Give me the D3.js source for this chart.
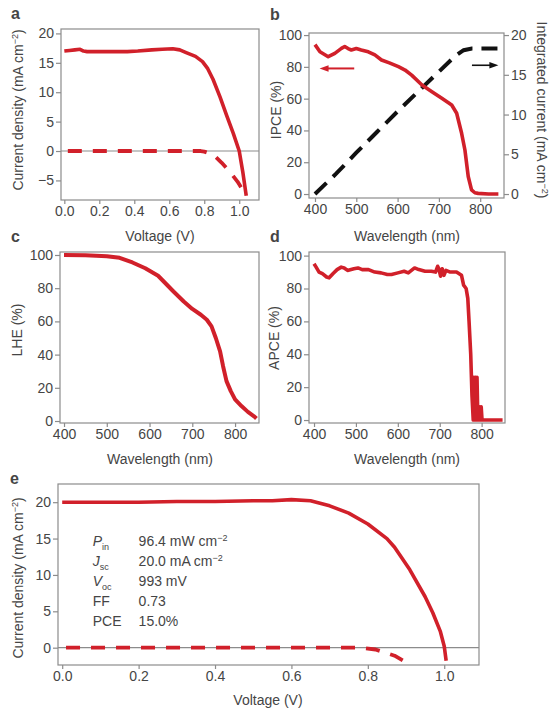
<!DOCTYPE html>
<html>
<head>
<meta charset="utf-8">
<script src="https://cdn.jsdelivr.net/npm/d3@7"></script>
<style>
body { margin: 0; background: #fff; }
text { font-family: "Liberation Sans", Arial, sans-serif; fill: #454545; }
</style>
</head>
<body>
<svg width="555" height="712"></svg>
<script>
// a: J-V curve (light and dark)
const aVolt  = [0, 0.03, 0.06, 0.09, 0.11, 0.13, 0.2, 0.3, 0.36, 0.42, 0.5, 0.56, 0.62, 0.66, 0.7, 0.75, 0.79, 0.82, 0.85, 0.89, 0.93, 0.966, 1.0, 1.02, 1.04];
const aJ     = [17.0, 17.1, 17.2, 17.3, 17.0, 16.9, 16.9, 16.9, 16.9, 17.0, 17.2, 17.3, 17.4, 17.2, 16.7, 16.1, 15.2, 14.0, 12.2, 9.2, 5.9, 3.0, 0, -3.5, -7.6];
const aDarkV = [0.02, 0.78, 0.8, 0.85, 0.9, 0.94, 0.99, 1.04];
const aDarkJ = [0, 0, -0.1, -0.6, -2.0, -3.3, -5.2, -7.6];

// b: IPCE and integrated current
const bWave = [400, 412, 432, 448, 464, 472, 480, 488, 500, 512, 529, 545, 561, 580, 602, 618, 634, 659, 683, 707, 731, 743, 755, 763, 771, 779, 787, 795, 820, 844];
const bIpce = [94, 89.5, 86.4, 88.5, 91.6, 92.8, 91.5, 90.6, 91.5, 90.6, 89.5, 87.5, 84.3, 82.5, 80.1, 78, 74.8, 68.6, 64.4, 60.2, 56, 50.8, 38.2, 27.7, 11, 2.6, 0.8, 0.4, 0, 0];
const bIntWave = [400, 450, 500, 550, 600, 650, 700, 740, 760, 780, 850];
const bIntJ    = [0, 2.5, 5.2, 7.8, 10.4, 12.9, 15.4, 17.4, 18.1, 18.3, 18.3];

// c: light harvesting efficiency
const cWave = [400, 450, 500, 530, 560, 590, 620, 656, 680, 700, 720, 734, 745, 755, 765, 772, 780, 790, 800, 815, 830, 846, 850];
const cLhe  = [100, 99.8, 99.3, 98.3, 95.5, 92, 87.5, 78, 72, 67.5, 64, 61, 57, 50, 42, 33, 24, 18, 13, 9, 5.5, 2.5, 1.5];

// d: APCE
const dWave = [400, 405, 412, 420, 430, 436, 445, 455, 465, 472, 480, 495, 505, 515, 530, 545, 560, 575, 585, 600, 615, 625, 640, 650, 665, 680, 690, 695, 698, 702, 706, 710, 715, 725, 740, 752, 757, 763, 767, 770, 774, 777, 780, 781, 782, 784, 785, 786, 788, 789, 791, 792, 794, 796, 797, 799, 801, 803, 850];
const dApce = [95, 93, 90, 89, 87, 86.5, 89, 91.5, 93, 92.5, 91, 92, 92.5, 91.5, 91.5, 90, 89.5, 88.5, 88.5, 89.5, 90.5, 89.5, 92.5, 91.5, 90.5, 90.5, 90, 93.5, 92, 87.5, 92, 88, 91, 90, 90, 88, 82, 80, 74, 60, 40, 15, 0, 26, 0, 26, 0, 26, 0, 26, 0, 8, 0, 8, 0, 8, 0, 0, 0];

// e: best cell J-V
const eVolt  = [0, 0.1, 0.2, 0.3, 0.4, 0.5, 0.55, 0.6, 0.65, 0.7, 0.75, 0.8, 0.85, 0.87, 0.91, 0.95, 0.97, 0.99, 1.0, 1.005];
const eJ     = [20, 20, 20, 20.1, 20.1, 20.2, 20.2, 20.35, 20.2, 19.5, 18.5, 17.0, 15.0, 13.8, 10.7, 7.0, 4.8, 2.2, 0.2, -1.8];
const eDarkV = [0.01, 0.78, 0.82, 0.84, 0.87, 0.9];
const eDarkJ = [0, 0, -0.25, -0.6, -1.1, -2.0];

const eLabels = [["P", "in"], ["J", "sc"], ["V", "oc"], ["FF", ""], ["PCE", ""]];
const eValues = ["96.4 mW cm", "20.0 mA cm", "993 mV", "0.73", "15.0%"];
const eValSup = ["\u22122", "\u22122", "", "", ""];

const red = "#d1202a";
const svg = d3.select("svg");
const fs = 14;

function minus(d, f) { return f(d).replace("-", "\u2212"); }

function panel(o) {
  const x = d3.scaleLinear().domain(o.xd).range([o.left, o.right]);
  const y = d3.scaleLinear().domain(o.yd).range([o.bottom, o.top]);
  const g = svg.append("g");
  g.append("rect")
    .attr("x", o.left).attr("y", o.top)
    .attr("width", o.right - o.left).attr("height", o.bottom - o.top)
    .attr("fill", "none").attr("stroke", "#8c8c8c").attr("stroke-width", 1.2);
  const xf = o.xf || d3.format("d"), yf = o.yf || d3.format("d");
  const ax = g.append("g").attr("transform", "translate(0," + o.bottom + ")")
    .call(d3.axisBottom(x).tickValues(o.xt).tickFormat(d => minus(d, xf)).tickSize(4).tickSizeOuter(0).tickPadding(2));
  const ay = g.append("g").attr("transform", "translate(" + o.left + ",0)")
    .call(d3.axisLeft(y).tickValues(o.yt).tickFormat(d => minus(d, yf)).tickSize(5).tickSizeOuter(0).tickPadding(2));
  [ax, ay].forEach(a => {
    a.select(".domain").remove();
    a.selectAll(".tick line").attr("stroke", "#8c8c8c").attr("stroke-width", 1.2);
    a.selectAll("text").attr("font-size", fs).attr("fill", "#454545");
  });
  return { x, y, g };
}

function ylabel(g, cx, cy, main, sup, tail, rot) {
  const t = g.append("text").attr("transform", "translate(" + cx + "," + cy + ") rotate(" + (rot || -90) + ")")
    .attr("text-anchor", "middle").attr("dy", "0.35em").attr("font-size", fs);
  t.append("tspan").text(main);
  if (sup) {
    t.append("tspan").attr("font-size", 9).attr("dy", -5).text(sup);
    t.append("tspan").attr("dy", 5).text(tail);
  }
}

function xlabel(g, cx, cy, s) {
  g.append("text").attr("x", cx).attr("y", cy).attr("text-anchor", "middle").attr("dy", "0.35em")
    .attr("font-size", fs).text(s);
}

function letter(s, x, y) {
  svg.append("text").attr("x", x).attr("y", y).attr("font-size", 16).attr("font-weight", "bold")
    .attr("fill", "#222").text(s);
}

function curve(p, xs, ys, color, dash, w) {
  const line = d3.line().x((d, i) => p.x(xs[i])).y((d, i) => p.y(ys[i]));
  p.g.append("path").datum(xs).attr("d", line).attr("fill", "none")
    .attr("stroke", color).attr("stroke-width", w || 3.6)
    .attr("stroke-linejoin", "round")
    .attr("stroke-dasharray", dash || null);
}

function zeroLine(p) {
  p.g.append("line").attr("x1", p.x.range()[0]).attr("x2", p.x.range()[1])
    .attr("y1", p.y(0)).attr("y2", p.y(0)).attr("stroke", "#8c8c8c").attr("stroke-width", 1.2);
}

function arrow(p, x1, x2, yv, yScale, color, w) {
  const y = yScale(yv);
  const xa = p.x(x1), xb = p.x(x2);
  const dir = Math.sign(xb - xa);
  p.g.append("line").attr("x1", xa).attr("x2", xb - dir * 6).attr("y1", y).attr("y2", y)
    .attr("stroke", color).attr("stroke-width", w);
  p.g.append("path").attr("d", "M" + xb + "," + y + "L" + (xb - dir * 9) + "," + (y - 3.2) + "L" + (xb - dir * 9) + "," + (y + 3.2) + "Z")
    .attr("fill", color);
}

// ---- a
const pa = panel({ left: 61, right: 259, top: 29, bottom: 200, xd: [-0.019, 1.113], yd: [-8.33, 20.75],
  xt: [0, 0.2, 0.4, 0.6, 0.8, 1.0], yt: [-5, 0, 5, 10, 15, 20], xf: d3.format(".1f") });
zeroLine(pa);
curve(pa, aDarkV, aDarkJ, red, "14,11", 3.8);
curve(pa, aVolt, aJ, red);
ylabel(pa.g, 18, 110, "Current density (mA cm", "\u22122", ")");
xlabel(pa.g, 160, 236, "Voltage (V)");
letter("a", 11, 19);

// ---- b
const pb = panel({ left: 309, right: 504, top: 33, bottom: 198, xd: [385.5, 857.6], yd: [-2.5, 101.3],
  xt: [400, 500, 600, 700, 800], yt: [0, 20, 40, 60, 80, 100] });
const yb2 = d3.scaleLinear().domain([-0.5, 20.26]).range([198, 33]);
const axr = pb.g.append("g").attr("transform", "translate(504,0)")
  .call(d3.axisRight(yb2).tickValues([0, 5, 10, 15, 20]).tickSize(5).tickSizeOuter(0).tickPadding(2));
axr.select(".domain").remove();
axr.selectAll(".tick line").attr("stroke", "#8c8c8c").attr("stroke-width", 1.2);
axr.selectAll("text").attr("font-size", fs).attr("fill", "#454545");
pb.g.append("path").datum(bIntWave)
  .attr("d", d3.line().x((d, i) => pb.x(bIntWave[i])).y((d, i) => yb2(bIntJ[i])))
  .attr("fill", "none").attr("stroke", "#111").attr("stroke-width", 4).attr("stroke-dasharray", "16,9");
curve(pb, bWave, bIpce, red);
arrow(pb, 495, 411, 79, pb.y, red, 2);
arrow(pb, 780, 844, 16.2, yb2, "#111", 1.6);
ylabel(pb.g, 276, 110, "IPCE (%)");
ylabel(pb.g, 542, 110, "Integrated current (mA cm", "\u22122", ")", 90);
xlabel(pb.g, 407, 236, "Wavelength (nm)");
letter("b", 270, 20);

// ---- c
const pc = panel({ left: 60, right: 259, top: 252, bottom: 423, xd: [390.6, 856], yd: [-1.2, 101.8],
  xt: [400, 500, 600, 700, 800], yt: [0, 20, 40, 60, 80, 100] });
curve(pc, cWave, cLhe, red, null, 4);
ylabel(pc.g, 17, 330, "LHE (%)");
xlabel(pc.g, 160, 459, "Wavelength (nm)");
letter("c", 11, 242);

// ---- d
const pd = panel({ left: 309, right: 505, top: 252, bottom: 423, xd: [388, 855.8], yd: [-1.8, 102.2],
  xt: [400, 500, 600, 700, 800], yt: [0, 20, 40, 60, 80, 100] });
curve(pd, dWave, dApce, red, null, 3.6);
ylabel(pd.g, 274, 338, "APCE (%)");
xlabel(pd.g, 407, 459, "Wavelength (nm)");
letter("d", 270, 242);

// ---- e
const pe = panel({ left: 58, right: 479, top: 484, bottom: 665, xd: [-0.011, 1.091], yd: [-2.38, 22.5],
  xt: [0, 0.2, 0.4, 0.6, 0.8, 1.0], yt: [0, 5, 10, 15, 20], xf: d3.format(".1f") });
zeroLine(pe);
curve(pe, eDarkV, eDarkJ, red, "14,11", 3.8);
curve(pe, eVolt, eJ, red);
ylabel(pe.g, 18, 578, "Current density (mA cm", "\u22122", ")");
xlabel(pe.g, 268, 700, "Voltage (V)");
letter("e", 10, 484);

// parameter table
const rowY = i => pe.y(14.6) + i * 20;
eLabels.forEach((l, i) => {
  const t = pe.g.append("text").attr("x", pe.x(0.08)).attr("y", rowY(i)).attr("dy", "0.35em").attr("font-size", fs);
  if (l[1]) {
    t.append("tspan").attr("font-style", "italic").text(l[0]);
    t.append("tspan").attr("font-size", 9).attr("dy", 4).text(l[1]);
  } else {
    t.append("tspan").text(l[0]);
  }
  const v = pe.g.append("text").attr("x", pe.x(0.2)).attr("y", rowY(i)).attr("dy", "0.35em").attr("font-size", fs);
  v.append("tspan").text(eValues[i]);
  if (eValSup[i]) v.append("tspan").attr("font-size", 9).attr("dy", -5).text(eValSup[i]);
});
</script>
</body>
</html>
